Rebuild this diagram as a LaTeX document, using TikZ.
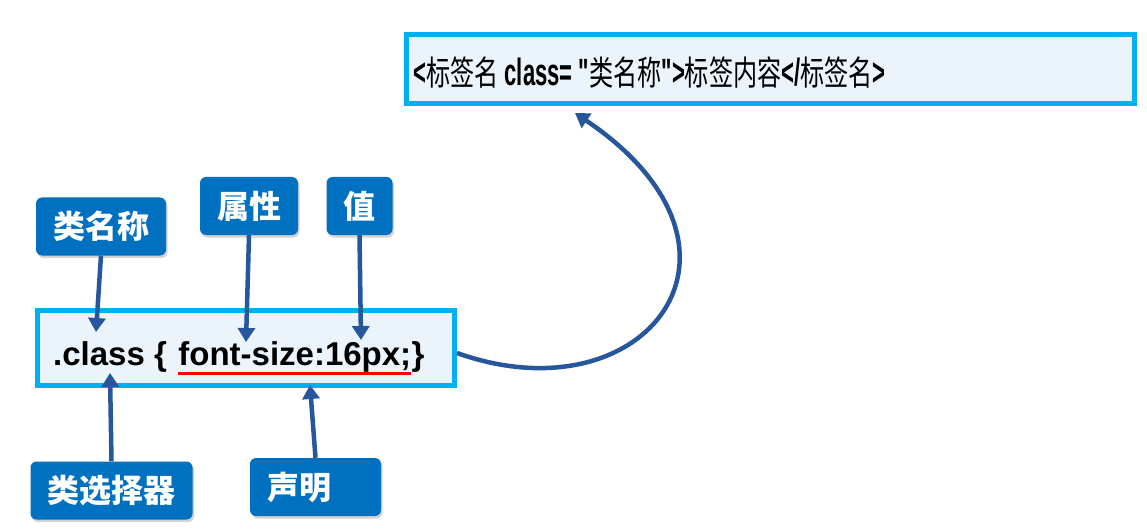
\documentclass[tikz,border=0pt]{standalone}
\usepackage{fontspec}
\usepackage{xcolor}
\usepackage{tikz}
\usetikzlibrary{positioning,arrows.meta,shadows}
\setmainfont{Liberation Sans}
\newfontfamily\cjk{Noto Sans CJK SC}
\newfontfamily\cjknarrow[FakeStretch=0.71]{Noto Sans CJK SC}
\newfontfamily\latnarrow[FakeStretch=0.58]{Liberation Sans}
\definecolor{framecyan}{RGB}{0,176,240}
\definecolor{boxtint}{RGB}{236,244,251}
\definecolor{tagblue}{RGB}{0,112,192}
\definecolor{arrowblue}{RGB}{38,86,156}
\newcommand\htmllat[1]{{\latnarrow\bfseries\fontsize{38pt}{40pt}\selectfont #1}}
\newcommand\htmlzh[1]{{\cjknarrow\fontsize{34pt}{38pt}\selectfont #1}}

\begin{document}
\begin{tikzpicture}[x=1pt, y=-1pt, >={Triangle[length=14pt, width=17pt]},
    codebox/.style={draw=framecyan, fill=boxtint, line width=5pt},
    codetext/.style={inner sep=0pt, font=\bfseries\fontsize{33pt}{36pt}\selectfont},
    tagbox/.style={fill=tagblue, rounded corners=6pt, text=white,
      font=\cjk\bfseries\fontsize{32pt}{36pt}\selectfont,
      minimum height=58pt, inner xsep=17pt,
      drop shadow={opacity=0.35, shadow xshift=1.5pt, shadow yshift=-2.5pt}},
    conn/.style={->, draw=arrowblue, line width=4.5pt}]
  \useasboundingbox (0,0) rectangle (1147,529);

  % the two boxes
  \node[codebox, minimum width=728pt, minimum height=69pt] (tag) at (770.5,69) {};
  \node[codebox, minimum width=417pt, minimum height=75pt] (box) at (246,348) {};

  \node[anchor=base west, inner sep=0pt] (tagtext) at (413,86)
    {\htmllat{<}\htmlzh{标签名}\htmllat{ class= "}\htmlzh{类名称}\htmllat{">}\htmlzh{标签内容}\htmllat{</}\htmlzh{标签名}\htmllat{>}};

  \node[codetext, anchor=base west] (sel) at (53,365) {.class \{};
  \node[codetext, base right=11pt of sel] (decl) {font-size:16px;};
  \node[codetext, base right=0pt of decl] (close) {\}};
  \draw[red, line width=3pt] ([yshift=-8pt]decl.base west) -- ([yshift=-8pt]decl.base east);

  % labels
  \node[tagbox] (clsname) at (101,226.5) {类名称};
  \node[tagbox] (prop) at (249,206) {属性};
  \node[tagbox] (val) at (359.5,206) {值};
  \node[tagbox] (clssel) at (111.5,490.5) {类选择器};
  \node[tagbox, text width=97pt] (decllbl) at (315.5,487) {声明};

  \coordinate (clsnameTip) at (96,332);
  \coordinate (propTip) at (246,342);
  \coordinate (valTip) at (361,340);
  \coordinate (clsselTip) at (110,373);
  \coordinate (decllblTip) at (310,385);
  \coordinate (tagTip) at (575,113);

  \draw[conn] (clsname.south) -- (clsnameTip);
  \draw[conn] (prop.south) -- (propTip);
  \draw[conn] (val.south) -- (valTip);
  \draw[conn] (clssel.north) -- (clsselTip);
  \draw[conn] (decllbl.north) -- (decllblTip);
  \draw[conn] ([yshift=-5pt]box.east) .. controls (645,420) and (778,250) .. (tagTip);
\end{tikzpicture}
\end{document}
